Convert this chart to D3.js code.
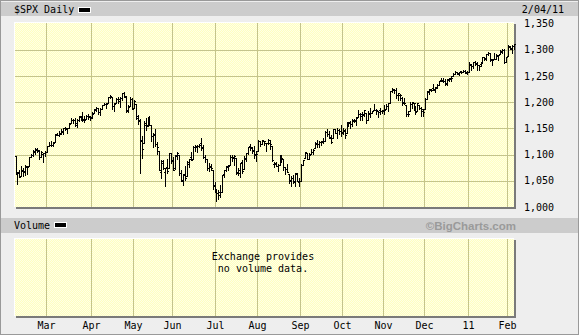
<!DOCTYPE html>
<html><head><meta charset="utf-8">
<script src="https://cdnjs.cloudflare.com/ajax/libs/d3/7.8.5/d3.min.js"></script>
<style>html,body{margin:0;padding:0;background:#eee;}svg{display:block;}</style>
</head><body>
<script>
// Daily $SPX, 2010-02-04 .. 2011-02-04 (254 sessions)
const open = [
1097.25,1064.12,1065.51,1060.06,1069.68,1067.10,1075.95,1079.13,1096.14,1099.03,1105.49,1110.00,1107.49,1095.89,1101.24,1103.10,
1105.36,1117.01,1119.36,1119.12,1125.12,1138.40,1137.56,1140.22,1143.96,1151.71,1148.53,1150.83,1159.94,1166.13,1166.68,1157.25,1166.47,1172.70,1170.03,1167.58,1167.71,1173.75,1171.75,
1171.23,1178.71,1186.01,1188.23,1181.75,1187.47,1194.94,1195.94,1198.69,1210.77,1210.17,1192.06,1199.04,1207.16,1202.52,1207.87,1217.07,1209.92,1184.59,1193.30,1206.77,
1188.58,1197.50,1169.24,1164.38,1127.04,1122.27,1156.39,1155.43,1170.04,1157.19,1136.52,1138.78,1119.57,1107.34,1067.26,1084.78,1067.42,1075.51,1074.27,1102.59,
1087.30,1073.89,1098.82,1098.43,1065.84,1050.81,1062.75,1058.77,1082.65,1095.00,1091.21,1114.02,1115.98,1116.16,1122.79,1113.90,1095.57,1090.93,1075.10,1077.50,1071.10,1040.56,
1031.10,1027.65,1028.09,1028.54,1062.92,1070.50,1077.23,1080.65,1095.61,1094.46,1093.85,1066.85,1064.53,1086.67,1072.14,1092.17,1102.89,1117.36,1112.84,1108.07,1098.44,
1107.53,1125.34,1121.06,1125.78,1122.07,1122.80,1122.92,1116.89,1081.48,1082.22,1077.49,1081.16,1092.08,1092.44,1075.63,1073.36,1063.20,1048.98,1056.28,1049.27,1062.90,1046.88,
1049.72,1080.66,1093.61,1102.60,1092.36,1101.15,1104.57,1113.38,1121.16,1119.43,1123.89,1126.39,1126.57,1142.82,1139.49,1131.10,1131.69,1148.64,1142.31,1146.75,1145.97,
1143.49,1144.96,1140.68,1159.81,1161.57,1158.36,1165.32,1164.28,1171.32,1177.82,1177.47,1176.83,1178.64,1166.74,1179.82,1180.52,1184.74,1184.88,1183.84,1184.47,1183.87,
1185.71,1187.86,1193.79,1198.34,1221.20,1223.24,1223.59,1213.14,1213.04,1209.07,1200.44,1194.79,1178.33,1183.75,1196.12,1198.07,1192.51,1183.70,1194.16,1189.08,1182.96,
1186.60,1206.81,1219.93,1223.87,1227.25,1225.02,1230.14,1233.85,1242.52,1241.84,1241.58,1236.34,1243.63,1245.76,1249.43,1254.94,1257.53,1254.66,1259.10,1258.78,1259.44,1256.76,
1257.62,1272.95,1268.78,1276.29,1274.41,1270.84,1272.58,1275.65,1285.78,1282.90,1293.22,1294.52,1280.85,1283.63,1283.29,1288.17,1291.97,1297.51,1299.63,1276.50,
1289.14,1305.91,1302.77,1307.01];
const high = [
1097.25,1067.13,1071.20,1079.28,1073.67,1080.04,1077.81,1095.67,1101.03,1108.24,1112.42,1112.29,1108.58,1106.42,1103.50,1107.24,
1116.11,1123.46,1125.64,1123.73,1139.38,1141.05,1145.37,1148.26,1150.24,1153.41,1150.98,1160.28,1169.84,1167.77,1169.20,1167.82,1174.72,1173.04,1180.69,1173.93,1174.85,1177.83,1174.56,
1181.43,1187.73,1191.80,1189.60,1188.55,1194.66,1199.20,1199.04,1210.65,1213.92,1210.17,1197.87,1208.58,1210.99,1210.27,1217.28,1219.80,1211.38,1195.05,1209.36,1207.99,
1205.13,1197.50,1175.95,1167.58,1135.13,1163.85,1170.48,1172.87,1173.57,1157.19,1141.88,1148.66,1124.27,1107.34,1090.16,1089.95,1074.75,1090.75,1103.52,1102.59,
1094.77,1098.56,1105.67,1098.43,1071.36,1063.15,1077.74,1087.85,1092.25,1105.91,1115.59,1118.74,1117.72,1121.01,1131.23,1118.50,1099.64,1090.93,1083.56,1082.60,1071.10,1048.08,
1033.58,1032.95,1042.50,1060.89,1071.25,1078.16,1080.78,1099.46,1099.08,1098.66,1093.85,1074.70,1083.94,1088.96,1097.50,1103.73,1115.01,1120.95,1114.66,1115.90,1106.44,
1127.30,1125.44,1128.75,1126.56,1123.06,1129.24,1127.16,1116.89,1086.72,1086.25,1082.62,1100.14,1099.77,1092.44,1075.63,1081.58,1063.20,1059.38,1061.45,1065.21,1064.40,1055.14,
1081.30,1090.10,1105.10,1102.60,1103.26,1110.27,1110.88,1123.87,1127.36,1126.46,1125.44,1131.47,1144.86,1148.59,1144.38,1136.77,1148.90,1149.92,1150.00,1148.63,1157.16,
1150.30,1148.16,1162.76,1162.33,1163.87,1167.73,1168.68,1172.58,1184.38,1178.89,1181.20,1185.53,1178.64,1182.94,1189.43,1183.93,1196.14,1187.11,1183.84,1189.53,1185.46,
1195.81,1195.88,1198.30,1221.25,1227.08,1224.57,1226.84,1218.75,1215.45,1210.50,1207.43,1194.79,1183.56,1200.29,1199.97,1198.94,1192.51,1198.62,1194.16,1190.34,1187.40,
1207.61,1221.89,1225.57,1225.80,1235.05,1228.93,1234.71,1240.40,1246.73,1246.59,1244.25,1243.75,1245.81,1250.20,1255.82,1259.39,1258.59,1258.43,1259.90,1262.60,1261.09,1259.34,
1276.17,1274.12,1277.63,1278.17,1276.83,1271.52,1277.25,1286.87,1286.70,1293.24,1296.06,1294.60,1283.35,1293.26,1291.93,1291.26,1299.74,1301.63,1302.67,1287.17,
1308.86,1307.61,1308.60,1311.00];
const low = [
1062.78,1044.50,1056.51,1060.06,1059.34,1060.59,1062.97,1079.13,1094.72,1097.48,1100.80,1105.38,1092.18,1095.50,1086.02,1097.56,
1105.36,1116.51,1116.58,1116.66,1125.12,1136.77,1134.90,1140.09,1138.99,1146.97,1141.45,1150.35,1159.94,1161.16,1155.33,1152.88,1163.83,1166.01,1165.09,1161.48,1167.71,1168.92,1165.77,
1170.69,1178.71,1182.77,1177.25,1175.12,1187.15,1194.71,1188.82,1198.69,1208.50,1186.77,1183.68,1199.04,1198.85,1190.19,1205.10,1211.07,1181.62,1181.81,1193.30,1186.32,
1188.58,1168.12,1158.15,1065.79,1094.15,1122.27,1147.71,1155.43,1156.14,1126.14,1114.96,1117.20,1100.66,1071.58,1055.90,1072.70,1040.78,1065.59,1074.27,1084.78,
1069.89,1072.03,1091.81,1060.50,1049.86,1042.17,1052.25,1058.77,1077.12,1089.03,1091.21,1107.13,1105.87,1113.93,1108.24,1094.18,1085.31,1071.60,1067.89,1071.45,1035.18,1028.33,
1010.91,1015.93,1018.35,1028.54,1058.24,1068.10,1070.45,1080.65,1087.68,1080.53,1063.32,1061.11,1056.88,1065.25,1072.14,1087.88,1101.30,1109.78,1103.11,1092.82,1088.01,
1107.53,1116.76,1119.46,1118.81,1107.17,1120.91,1111.58,1088.55,1076.69,1079.00,1069.49,1081.16,1085.76,1070.66,1063.91,1067.08,1046.68,1039.83,1045.40,1039.70,1048.79,1040.88,
1049.72,1080.39,1093.61,1091.15,1092.36,1101.15,1101.15,1113.38,1115.58,1114.63,1118.88,1122.43,1126.57,1136.22,1131.58,1122.79,1131.69,1142.00,1132.09,1140.26,1136.08,
1139.42,1131.87,1140.68,1154.85,1151.41,1155.58,1162.02,1155.71,1171.32,1166.71,1167.12,1174.55,1159.71,1166.74,1171.17,1178.99,1184.74,1177.72,1171.70,1177.10,1179.70,
1177.65,1187.86,1183.56,1198.34,1220.29,1217.55,1208.94,1204.33,1204.49,1194.08,1197.15,1173.00,1173.00,1183.75,1189.44,1184.58,1176.91,1183.70,1186.93,1173.64,1174.14,
1186.60,1206.81,1216.82,1220.67,1223.25,1219.50,1226.85,1232.58,1240.34,1238.17,1234.01,1232.85,1239.87,1241.51,1249.43,1254.94,1254.05,1251.48,1256.22,1258.78,1256.32,1254.19,
1257.62,1262.66,1265.36,1270.43,1261.70,1262.18,1269.62,1275.65,1280.47,1281.24,1290.16,1278.92,1271.26,1283.07,1282.47,1281.07,1291.97,1294.42,1275.10,1276.50,
1289.14,1302.62,1294.83,1301.67];
const close = [
1063.11,1066.19,1056.74,1070.52,1068.13,1078.47,1075.51,1094.87,1099.51,1106.75,1109.17,1108.01,1094.60,1105.24,1102.94,1104.49,
1115.71,1118.31,1118.79,1122.97,1138.70,1138.50,1140.45,1145.61,1150.24,1149.99,1150.51,1159.46,1166.21,1165.83,1159.90,1165.81,1174.17,1167.72,1165.73,1166.59,1173.22,1173.27,1169.43,
1178.10,1187.44,1189.44,1182.45,1186.44,1194.37,1196.48,1197.30,1210.65,1211.67,1192.13,1197.52,1207.17,1205.94,1208.67,1217.28,1212.05,1183.71,1191.36,1206.78,1186.69,
1202.26,1173.60,1165.90,1128.15,1110.88,1159.73,1155.79,1171.67,1157.44,1135.68,1136.94,1120.80,1115.05,1071.59,1087.69,1073.65,1074.03,1067.95,1103.06,1089.41,
1070.71,1098.38,1102.83,1064.88,1050.47,1062.00,1055.69,1086.84,1091.60,1089.63,1115.23,1114.61,1116.04,1117.51,1113.20,1095.31,1092.04,1073.69,1076.76,1074.57,1041.24,1030.71,
1027.37,1022.58,1028.06,1060.27,1070.25,1077.96,1078.75,1095.34,1095.17,1096.48,1064.88,1071.25,1083.48,1069.59,1093.67,1102.66,1115.01,1113.84,1106.13,1101.53,1101.60,
1125.86,1120.46,1127.24,1125.81,1121.64,1127.79,1121.06,1089.47,1083.61,1079.25,1079.38,1092.54,1094.16,1075.63,1071.69,1067.36,1051.87,1055.33,1047.22,1064.59,1048.92,1049.33,
1080.29,1090.10,1104.51,1091.84,1098.87,1104.18,1109.55,1121.90,1121.10,1125.07,1124.66,1125.59,1142.71,1139.78,1134.28,1124.83,1148.67,1142.16,1147.70,1144.73,1141.20,
1146.24,1137.03,1160.75,1159.97,1158.06,1165.15,1165.32,1169.77,1178.10,1173.81,1176.19,1184.71,1165.90,1178.17,1180.26,1183.08,1185.62,1185.64,1182.45,1183.78,1183.26,
1184.38,1193.57,1197.96,1221.06,1225.85,1223.25,1213.40,1218.71,1213.54,1199.21,1197.75,1178.34,1178.59,1196.69,1199.73,1197.84,1180.73,1198.35,1189.40,1187.76,1180.55,
1206.07,1221.53,1224.71,1223.12,1223.75,1228.28,1233.00,1240.40,1240.46,1241.59,1235.23,1242.87,1243.91,1247.08,1254.60,1258.84,1256.77,1257.54,1258.51,1259.78,1257.88,1257.64,
1271.87,1270.20,1276.56,1273.85,1271.50,1269.75,1274.48,1285.96,1283.76,1293.24,1295.02,1281.92,1280.26,1283.35,1290.84,1291.18,1296.63,1299.54,1276.34,1286.12,
1307.59,1304.03,1307.10,1310.87];

const monthLabels = ["Mar","Apr","May","Jun","Jul","Aug","Sep","Oct","Nov","Dec","11","Feb"];
const monthIndex  = [16, 39, 60, 80, 102, 123, 145, 166, 187, 208, 230, 250];
const yTicks = [1000, 1050, 1100, 1150, 1200, 1250, 1300, 1350];
const gridValues = [1050, 1100, 1150, 1200, 1250, 1300];
const title = "$SPX Daily";
const dateLabel = "2/04/11";

const W = 579, H = 335;
const mono = "'DejaVu Sans Mono', monospace";
const svg = d3.select("body").append("svg").attr("width", W).attr("height", H)
  .attr("shape-rendering", "crispEdges");

const defs = svg.append("defs");
const pat = defs.append("pattern").attr("id","dots").attr("width",2).attr("height",2)
  .attr("patternUnits","userSpaceOnUse");
pat.append("rect").attr("width",2).attr("height",2).attr("fill","#ffffc0");
pat.append("rect").attr("width",1).attr("height",1).attr("fill","#ffffe6");
pat.append("rect").attr("x",1).attr("y",1).attr("width",1).attr("height",1).attr("fill","#ffffe6");

// background + frame
svg.append("rect").attr("width",W).attr("height",H).attr("fill","#eeeeee");
svg.append("rect").attr("x",0.5).attr("y",0.5).attr("width",W-1).attr("height",H-1)
  .attr("fill","none").attr("stroke","#999");

// header bars
svg.append("rect").attr("x",1).attr("y",2).attr("width",W-2).attr("height",14).attr("fill","#cccccc");
svg.append("rect").attr("x",1).attr("y",218).attr("width",W-2).attr("height",15).attr("fill","#cccccc");

const n = close.length;
const x = d3.scaleLinear().domain([0, n-1]).range([15.5, 514]);
const y = d3.scaleLinear().domain([1000, 1350]).range([207, 23.8]);

const main = {x0:14, y0:22, w:500, h:185};
const vol = {x0:14, y0:238, w:500, h:78};

function panel(p){
  svg.append("rect").attr("x",p.x0+2).attr("y",p.y0+2).attr("width",p.w).attr("height",p.h).attr("fill","#7a7a7a");
  svg.append("rect").attr("x",p.x0).attr("y",p.y0).attr("width",p.w).attr("height",p.h).attr("fill","url(#dots)");
  svg.append("rect").attr("x",p.x0).attr("y",p.y0).attr("width",p.w).attr("height",1).attr("fill","#ffffff");
  svg.append("rect").attr("x",p.x0).attr("y",p.y0).attr("width",1).attr("height",p.h).attr("fill","#ffffff");
  svg.append("g").selectAll("rect").data(monthIndex).join("rect")
    .attr("x", d => Math.round(x(d)) - 1).attr("y", p.y0+1).attr("width",1).attr("height",p.h-1)
    .attr("fill","#c4c48c");
}
panel(main);
panel(vol);

// horizontal gridlines
svg.append("g").selectAll("rect").data(gridValues).join("rect")
  .attr("x", main.x0+1).attr("y", d => Math.round(y(d))).attr("width", main.w-1).attr("height",1)
  .attr("fill","#c4c48c");

// OHLC bars
const bars = svg.append("g").attr("fill","#000");
const idx = d3.range(n);
bars.selectAll("rect.v").data(idx).join("rect").attr("class","v")
  .attr("x", i => Math.round(x(i)))
  .attr("y", i => Math.round(y(high[i])))
  .attr("width",1)
  .attr("height", i => Math.max(1, Math.round(y(low[i])) - Math.round(y(high[i])) + 1));
bars.selectAll("rect.o").data(idx).join("rect").attr("class","o")
  .attr("x", i => Math.round(x(i)) - 1).attr("y", i => Math.round(y(open[i])))
  .attr("width",1).attr("height",1);
bars.selectAll("rect.c").data(idx).join("rect").attr("class","c")
  .attr("x", i => Math.round(x(i)) + 1).attr("y", i => Math.round(y(close[i])))
  .attr("width",1).attr("height",1);

// Y axis labels (right side)
const fmt = d3.format(",");
svg.append("g").selectAll("text").data(yTicks).join("text")
  .attr("x", 524).attr("y", d => y(d) + 3.5)
  .attr("font-family", mono).attr("font-size", 10).attr("fill","#000")
  .text(d => fmt(d));

// Month labels
svg.append("g").selectAll("text").data(monthIndex).join("text")
  .attr("x", d => Math.round(x(d)) - 0.5).attr("y", 329)
  .attr("text-anchor","middle")
  .attr("font-family", mono).attr("font-size", 10).attr("fill","#000")
  .text((d,i) => monthLabels[i]);

// header texts
svg.append("text").attr("x",14).attr("y",13).attr("font-family",mono).attr("font-size",10).text(title);
svg.append("rect").attr("x",78).attr("y",7).attr("width",13).attr("height",6).attr("fill","#fff");
svg.append("rect").attr("x",79).attr("y",8).attr("width",11).attr("height",4).attr("fill","#000");
svg.append("text").attr("x",564).attr("y",13).attr("text-anchor","end").attr("font-family",mono).attr("font-size",10).text(dateLabel);

svg.append("text").attr("x",14).attr("y",229).attr("font-family",mono).attr("font-size",10).text("Volume");
svg.append("rect").attr("x",54).attr("y",222).attr("width",13).attr("height",6).attr("fill","#fff");
svg.append("rect").attr("x",55).attr("y",223).attr("width",11).attr("height",4).attr("fill","#000");

svg.append("text").attr("x",516).attr("y",230).attr("text-anchor","end")
  .attr("font-family","'Liberation Sans', Arial, sans-serif").attr("font-weight","bold")
  .attr("font-size",11.5).attr("fill","#9a9a9a").text("\u00A9BigCharts.com");

svg.append("text").attr("x",263).attr("y",260).attr("text-anchor","middle")
  .attr("font-family",mono).attr("font-size",10).text("Exchange provides");
svg.append("text").attr("x",263).attr("y",272).attr("text-anchor","middle")
  .attr("font-family",mono).attr("font-size",10).text("no volume data.");
</script>
</body></html>
